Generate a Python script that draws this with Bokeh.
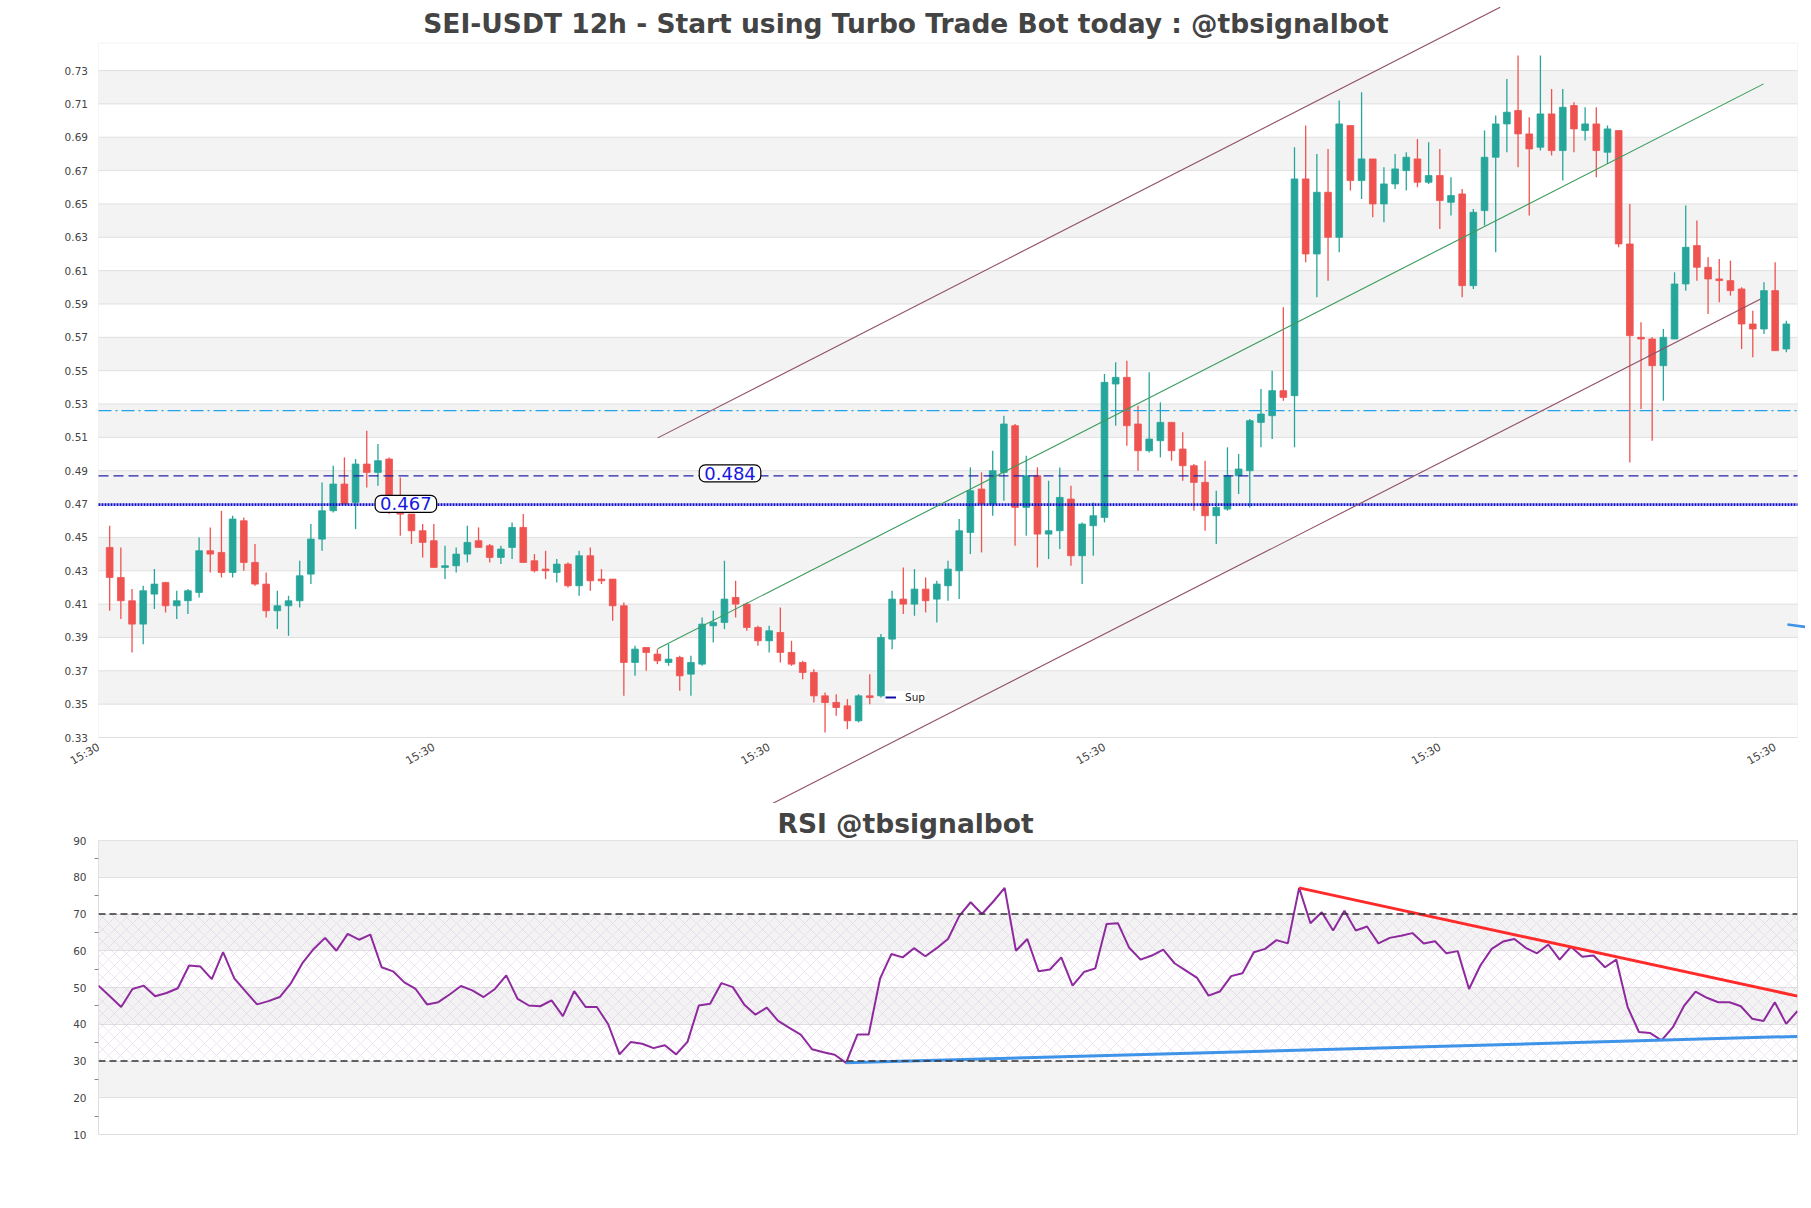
import math
import numpy as np
from bokeh.plotting import figure
from bokeh.models import (Range1d, FixedTicker, Span, BoxAnnotation, Label,
                          Legend, LegendItem)
from bokeh.layouts import column
from bokeh.embed import file_html
from bokeh.resources import INLINE
from bokeh.core.properties import value

# ---------------- data ----------------
opens = [0.444, 0.426, 0.412, 0.398, 0.416, 0.423, 0.409, 0.412, 0.417, 0.442,
         0.441, 0.429, 0.460, 0.435, 0.422, 0.406, 0.409, 0.412, 0.428, 0.449,
         0.466, 0.482, 0.471, 0.494, 0.489, 0.497, 0.466, 0.464, 0.454, 0.448,
         0.432, 0.433, 0.440, 0.448, 0.445, 0.438, 0.444, 0.456, 0.436, 0.431,
         0.429, 0.434, 0.421, 0.439, 0.425, 0.425, 0.409, 0.375, 0.384, 0.380,
         0.375, 0.378, 0.368, 0.374, 0.397, 0.399, 0.414, 0.410, 0.396, 0.388,
         0.393, 0.381, 0.375, 0.369, 0.355, 0.351, 0.349, 0.340, 0.355, 0.355,
         0.389, 0.413, 0.410, 0.419, 0.413, 0.421, 0.430, 0.453, 0.479, 0.470,
         0.489, 0.517, 0.468, 0.487, 0.452, 0.454, 0.473, 0.439, 0.457, 0.462,
         0.542, 0.546, 0.518, 0.502, 0.508, 0.519, 0.503, 0.493, 0.483, 0.463,
         0.467, 0.487, 0.490, 0.519, 0.523, 0.538, 0.535, 0.665, 0.620, 0.657,
         0.630, 0.697, 0.664, 0.677, 0.650, 0.662, 0.670, 0.677, 0.663, 0.667,
         0.651, 0.656, 0.601, 0.646, 0.678, 0.698, 0.706, 0.692, 0.684, 0.704,
         0.682, 0.709, 0.694, 0.698, 0.681, 0.694, 0.626, 0.570, 0.569, 0.553,
         0.569, 0.602, 0.625, 0.612, 0.605, 0.604, 0.599, 0.578, 0.575, 0.598,
         0.563]
highs = [0.457, 0.444, 0.419, 0.421, 0.431, 0.423, 0.418, 0.419, 0.450, 0.456,
         0.466, 0.463, 0.462, 0.446, 0.429, 0.418, 0.415, 0.436, 0.458, 0.483,
         0.493, 0.498, 0.497, 0.514, 0.506, 0.498, 0.486, 0.464, 0.458, 0.458,
         0.445, 0.444, 0.457, 0.456, 0.446, 0.445, 0.459, 0.464, 0.440, 0.442,
         0.437, 0.435, 0.442, 0.444, 0.431, 0.425, 0.411, 0.385, 0.384, 0.383,
         0.386, 0.379, 0.379, 0.402, 0.406, 0.436, 0.424, 0.411, 0.397, 0.397,
         0.408, 0.388, 0.376, 0.371, 0.357, 0.356, 0.353, 0.356, 0.368, 0.392,
         0.418, 0.432, 0.431, 0.426, 0.424, 0.436, 0.461, 0.492, 0.489, 0.502,
         0.523, 0.518, 0.499, 0.492, 0.484, 0.492, 0.481, 0.459, 0.471, 0.548,
         0.555, 0.556, 0.529, 0.549, 0.531, 0.519, 0.513, 0.494, 0.496, 0.478,
         0.504, 0.500, 0.521, 0.539, 0.550, 0.588, 0.684, 0.697, 0.680, 0.683,
         0.712, 0.697, 0.717, 0.677, 0.672, 0.680, 0.681, 0.689, 0.687, 0.683,
         0.666, 0.659, 0.647, 0.694, 0.703, 0.725, 0.739, 0.702, 0.739, 0.719,
         0.719, 0.711, 0.708, 0.708, 0.697, 0.694, 0.650, 0.579, 0.570, 0.575,
         0.609, 0.649, 0.640, 0.618, 0.617, 0.616, 0.600, 0.586, 0.603, 0.615,
         0.580]
lows = [0.406, 0.401, 0.381, 0.386, 0.407, 0.405, 0.401, 0.404, 0.414, 0.429,
        0.426, 0.426, 0.430, 0.421, 0.402, 0.395, 0.391, 0.408, 0.422, 0.442,
        0.465, 0.470, 0.455, 0.480, 0.481, 0.464, 0.451, 0.446, 0.438, 0.432,
        0.425, 0.429, 0.435, 0.444, 0.435, 0.434, 0.437, 0.435, 0.429, 0.425,
        0.423, 0.420, 0.415, 0.418, 0.422, 0.400, 0.355, 0.367, 0.370, 0.374,
        0.373, 0.358, 0.355, 0.373, 0.387, 0.395, 0.402, 0.394, 0.385, 0.381,
        0.375, 0.373, 0.365, 0.351, 0.333, 0.343, 0.335, 0.339, 0.350, 0.354,
        0.383, 0.404, 0.403, 0.405, 0.399, 0.412, 0.413, 0.440, 0.441, 0.463,
        0.472, 0.445, 0.451, 0.432, 0.437, 0.443, 0.433, 0.422, 0.439, 0.459,
        0.517, 0.505, 0.490, 0.501, 0.498, 0.496, 0.484, 0.466, 0.454, 0.446,
        0.466, 0.476, 0.468, 0.504, 0.509, 0.532, 0.504, 0.615, 0.594, 0.604,
        0.621, 0.658, 0.653, 0.642, 0.639, 0.659, 0.658, 0.660, 0.662, 0.635,
        0.643, 0.594, 0.599, 0.637, 0.621, 0.681, 0.672, 0.643, 0.682, 0.679,
        0.664, 0.681, 0.688, 0.666, 0.674, 0.624, 0.495, 0.527, 0.508, 0.532,
        0.569, 0.598, 0.604, 0.584, 0.591, 0.595, 0.563, 0.558, 0.572, 0.562,
        0.561]
closes = [0.426, 0.412, 0.398, 0.418, 0.422, 0.409, 0.412, 0.418, 0.442, 0.440,
          0.429, 0.461, 0.435, 0.422, 0.406, 0.409, 0.412, 0.427, 0.449, 0.466,
          0.482, 0.470, 0.494, 0.489, 0.496, 0.465, 0.464, 0.454, 0.447, 0.432,
          0.433, 0.440, 0.447, 0.444, 0.438, 0.443, 0.456, 0.435, 0.430, 0.430,
          0.434, 0.421, 0.439, 0.424, 0.424, 0.409, 0.375, 0.383, 0.381, 0.376,
          0.377, 0.367, 0.375, 0.398, 0.399, 0.413, 0.410, 0.396, 0.388, 0.394,
          0.381, 0.374, 0.369, 0.355, 0.351, 0.348, 0.340, 0.355, 0.354, 0.390,
          0.413, 0.410, 0.419, 0.412, 0.422, 0.431, 0.454, 0.478, 0.470, 0.490,
          0.518, 0.468, 0.487, 0.452, 0.454, 0.474, 0.439, 0.458, 0.463, 0.543,
          0.546, 0.517, 0.502, 0.509, 0.519, 0.502, 0.493, 0.483, 0.463, 0.468,
          0.487, 0.491, 0.520, 0.524, 0.538, 0.534, 0.665, 0.620, 0.657, 0.630,
          0.698, 0.664, 0.677, 0.650, 0.662, 0.671, 0.678, 0.663, 0.667, 0.652,
          0.655, 0.601, 0.645, 0.678, 0.698, 0.705, 0.692, 0.683, 0.704, 0.682,
          0.708, 0.695, 0.698, 0.682, 0.695, 0.626, 0.571, 0.569, 0.553, 0.570,
          0.602, 0.624, 0.612, 0.605, 0.604, 0.598, 0.578, 0.575, 0.598, 0.562,
          0.578]

rsi = [50.5, 47.6, 44.7, 49.6, 50.5, 47.6, 48.5, 49.8, 56.0, 55.7,
       52.3, 59.6, 52.4, 48.9, 45.4, 46.3, 47.4, 51.2, 56.6, 60.5,
       63.5, 60.0, 64.6, 63.0, 64.4, 55.5, 54.4, 51.4, 49.6, 45.4,
       46.0, 48.1, 50.4, 49.2, 47.4, 49.6, 53.3, 46.9, 45.1, 44.9,
       46.5, 42.2, 49.0, 44.7, 44.7, 40.0, 31.8, 35.2, 34.7, 33.5,
       34.3, 31.8, 35.2, 45.1, 45.6, 51.2, 50.1, 45.4, 42.6, 44.5,
       40.9, 39.0, 37.2, 33.2, 32.4, 31.7, 29.5, 37.2, 37.2, 52.4,
       59.1, 58.2, 60.7, 58.5, 60.7, 63.2, 69.5, 73.2, 70.0, 73.4,
       77.1, 60.0, 63.2, 54.4, 54.9, 58.2, 50.5, 54.2, 55.2, 67.3,
       67.5, 60.8, 57.6, 58.7, 60.3, 56.6, 54.6, 52.6, 47.8, 48.9,
       53.1, 53.9, 59.6, 60.5, 62.9, 62.0, 77.1, 67.5, 70.5, 65.5,
       70.9, 65.5, 66.6, 62.0, 63.5, 64.1, 64.8, 62.0, 62.6, 59.3,
       59.9, 49.6, 56.0, 60.5, 62.5, 63.2, 60.8, 59.3, 61.7, 57.6,
       61.1, 58.4, 58.7, 55.5, 57.6, 44.7, 37.9, 37.6, 35.6, 39.2,
       45.1, 48.9, 47.2, 46.0, 46.0, 44.9, 41.5, 40.9, 46.0, 40.1,
       43.6]

price_ticks = [0.33, 0.35, 0.37, 0.39, 0.41, 0.43, 0.45, 0.47, 0.49, 0.51,
               0.53, 0.55, 0.57, 0.59, 0.61, 0.63, 0.65, 0.67, 0.69, 0.71, 0.73]
price_tick_labels = ["%.2f" % t for t in price_ticks]
x_tick_pos = [-1, 29, 59, 89, 119, 149]
x_tick_labels = ["15:30", "15:30", "15:30", "15:30", "15:30", "15:30"]
rsi_ticks = [10, 20, 30, 40, 50, 60, 70, 80, 90]
rsi_minor = [15, 25, 35, 45, 55, 65, 75, 85]

level_resist = 0.5261      # cyan dash-dot
level_dashed = 0.4869      # navy dashed
level_sup = 0.4697         # blue dotted
level_label_texts = ["0.484", "0.467"]
level_label_x = [55.5, 26.5]
level_label_y = [0.4884, 0.4701]

# channel (index, price)
mid_x, mid_y = [49.03, 147.97], [0.3832, 0.7220]
up_x, up_y = [49.03, 124.4], [0.5097, 0.7680]
lo_x, lo_y = [59.3, 147.7], [0.2904, 0.5930]
stray_x, stray_y = [150.1, 152.0], [0.3978, 0.3960]

rsi_red_x, rsi_red_y = [106, 150], [77.1, 47.65]
rsi_blue_x, rsi_blue_y = [66, 150], [29.5, 36.7]

TITLE = "SEI-USDT 12h - Start using Turbo Trade Bot today : @tbsignalbot"
RSI_TITLE = "RSI @tbsignalbot"

UP, DOWN = "#26a69a", "#ef5350"
FONT = "DejaVu Sans"
TXT = "#444444"

# ---------------- geometry (screen px) ----------------
W = 1805
LEFT, FRAME_R = 98, 1797
X_LO, X_HI = -1, 151                 # visible candle-index window
P_TOP, P_BOT = 42.7, 737.0            # price frame top/bottom
PRICE_LO, PRICE_HI = 0.33, 0.7464
H1 = 803
PXU = (FRAME_R - LEFT) / (X_HI - X_LO)
PYU = (P_BOT - P_TOP) / (PRICE_HI - PRICE_LO)
Y_TOP = PRICE_HI + P_TOP / PYU
Y_BOT = PRICE_LO - (H1 - P_BOT) / PYU
X_START = X_LO - LEFT / PXU
X_END = X_LO + (W - LEFT) / PXU

# ---------------- price figure ----------------
idx = np.arange(len(opens))
o, h, l, c = map(np.array, (opens, highs, lows, closes))
colors = [UP if cc >= oo else DOWN for oo, cc in zip(o, c)]

p = figure(width=W, height=H1, x_range=Range1d(X_START, X_END),
           y_range=Range1d(Y_BOT, Y_TOP), output_backend="svg",
           toolbar_location=None, min_border_left=0, min_border_right=0,
           min_border_top=0, min_border_bottom=0, frame_align=False)
p.outline_line_color = None
p.background_fill_color = "white"
p.border_fill_color = "white"
p.xgrid.visible = False
p.ygrid.visible = False
p.xaxis.visible = False
p.yaxis.visible = False

for k in range(len(price_ticks) - 1):
    if k % 2 == 1:
        p.add_layout(BoxAnnotation(left=X_LO, right=X_HI, bottom=price_ticks[k],
                                   top=price_ticks[k + 1], fill_color="#f3f3f3",
                                   fill_alpha=1, line_color=None, level="image"))
grid = p.segment(x0=[X_LO] * len(price_ticks), x1=[X_HI] * len(price_ticks),
                 y0=price_ticks, y1=price_ticks, line_color="#e0e0e0", line_width=1)
grid.level = "underlay"
p.add_layout(BoxAnnotation(left=X_LO, right=X_HI, bottom=PRICE_LO, top=PRICE_HI,
                           fill_alpha=0, line_color="#dddddd", line_width=1,
                           level="underlay"))

# y tick labels (left of the price frame)
p.text(x=[X_LO] * len(price_ticks), y=price_ticks, text=price_tick_labels,
       text_align="right", text_baseline="middle", x_offset=-10.5,
       text_font=value(FONT), text_font_size="10.5px", text_color=TXT)
# x tick labels just under the price frame
p.text(x=x_tick_pos, y=[PRICE_LO] * len(x_tick_pos), text=x_tick_labels,
       angle=math.pi / 6, text_align="right", text_baseline="top",
       x_offset=-3, y_offset=3, text_font=value(FONT), text_font_size="11px",
       text_color=TXT)
# title
p.text(x=[X_LO + (905.5 - LEFT) / PXU], y=[Y_TOP - 23 / PYU], text=[TITLE],
       text_align="center", text_baseline="middle", text_font=value(FONT),
       text_font_size="26.5px", text_font_style="bold", text_color=TXT)

p.segment(x0=idx, y0=l, x1=idx, y1=h, line_color=colors, line_width=1.3)
p.vbar(x=idx, width=0.6, top=np.maximum(o, c), bottom=np.minimum(o, c),
       fill_color=colors, line_color=colors, line_width=0.8)

p.line(x=[X_LO, X_HI], y=[level_resist] * 2, line_color="#22a2e8",
       line_width=1.3, line_dash="13 4 2 4")
p.line(x=[X_LO, X_HI], y=[level_dashed] * 2, line_color="#2222a8",
       line_width=1.3, line_dash="10 5")
p.line(x=[X_LO, X_HI], y=[level_sup] * 2, line_color="#1414d0",
       line_width=2.8, line_dash="2 1")

for lx, ly, lt in zip(level_label_x, level_label_y, level_label_texts):
    p.add_layout(Label(x=lx, y=ly, text=lt, text_align="center", text_baseline="middle",
                       text_font=FONT, text_font_size="18px", text_color="#1818e0",
                       background_fill_color="white", border_line_color="black",
                       border_line_width=1.2, border_radius=6,
                       padding=dict(left=5, right=5, top=2, bottom=2)))

p.line(x=mid_x, y=mid_y, line_color="#3a9a5c", line_width=1.1)
p.line(x=up_x, y=up_y, line_color="#8e4e66", line_width=1.1)
p.line(x=lo_x, y=lo_y, line_color="#8e4e66", line_width=1.1)
p.line(x=stray_x, y=stray_y, line_color="#3f93e8", line_width=2.6)

dummy = p.line(x=[0], y=[float("nan")], line_color="#1010a0", line_width=2)
legend = Legend(items=[LegendItem(label="Sup", renderers=[dummy])],
                location=(885, H1 - 703),
                label_text_font=FONT, label_text_font_size="10.5px",
                label_text_color="#222222", glyph_width=11,
                glyph_height=10, padding=4, margin=0, spacing=0, label_standoff=9,
                border_line_color=None, background_fill_color="white",
                background_fill_alpha=1)
p.add_layout(legend)

# ---------------- RSI figure ----------------
j = np.arange(len(rsi))
r = figure(width=W, height=380, x_range=Range1d(0, len(rsi) - 1),
           y_range=Range1d(10, 90), output_backend="svg", toolbar_location=None,
           min_border_left=LEFT, min_border_right=W - FRAME_R, min_border_top=37,
           min_border_bottom=49, frame_align=False)
r.title.text = RSI_TITLE
r.title.align = "left"
r.title.offset = 679
r.title.text_font = FONT
r.title.text_font_size = "26.5px"
r.title.text_font_style = "bold"
r.title.text_color = TXT
r.title.standoff = 4
r.outline_line_color = "#dddddd"

for k in range(len(rsi_ticks) - 1):
    if k % 2 == 1:
        r.add_layout(BoxAnnotation(bottom=rsi_ticks[k], top=rsi_ticks[k + 1],
                                   fill_color="#f3f3f3", fill_alpha=1,
                                   line_color=None, level="image"))
r.add_layout(BoxAnnotation(bottom=30, top=70, fill_alpha=0, line_color=None,
                           hatch_pattern="diagonal_cross", hatch_color="#c8a8d8",
                           hatch_alpha=0.45, hatch_scale=12, hatch_weight=0.7,
                           level="underlay"))
r.xgrid.visible = False
r.xaxis.visible = False
r.ygrid.ticker = FixedTicker(ticks=rsi_ticks)
r.ygrid.grid_line_color = "#e0e0e0"
r.yaxis.ticker = FixedTicker(ticks=rsi_ticks, minor_ticks=rsi_minor)
r.yaxis.axis_line_color = None
r.yaxis.major_tick_line_color = None
r.yaxis.major_tick_out = 0
r.yaxis.major_tick_in = 0
r.yaxis.minor_tick_line_color = "#888888"
r.yaxis.minor_tick_out = 4
r.yaxis.minor_tick_in = 0
r.yaxis.major_label_text_font = FONT
r.yaxis.major_label_text_font_size = "10.5px"
r.yaxis.major_label_text_color = TXT
r.yaxis.major_label_standoff = 8

r.add_layout(Span(location=70, dimension="width", line_color="#333333",
                  line_width=1.3, line_dash="7 4"))
r.add_layout(Span(location=30, dimension="width", line_color="#333333",
                  line_width=1.3, line_dash="7 4"))
r.line(x=j, y=rsi, line_color="#8e2a9e", line_width=2)
r.line(x=rsi_red_x, y=rsi_red_y, line_color="#ff2a2a", line_width=3)
r.line(x=rsi_blue_x, y=rsi_blue_y, line_color="#3f93e8", line_width=3)

layout = column(p, r, spacing=0)
open("out.html", "w").write(file_html(layout, INLINE))
